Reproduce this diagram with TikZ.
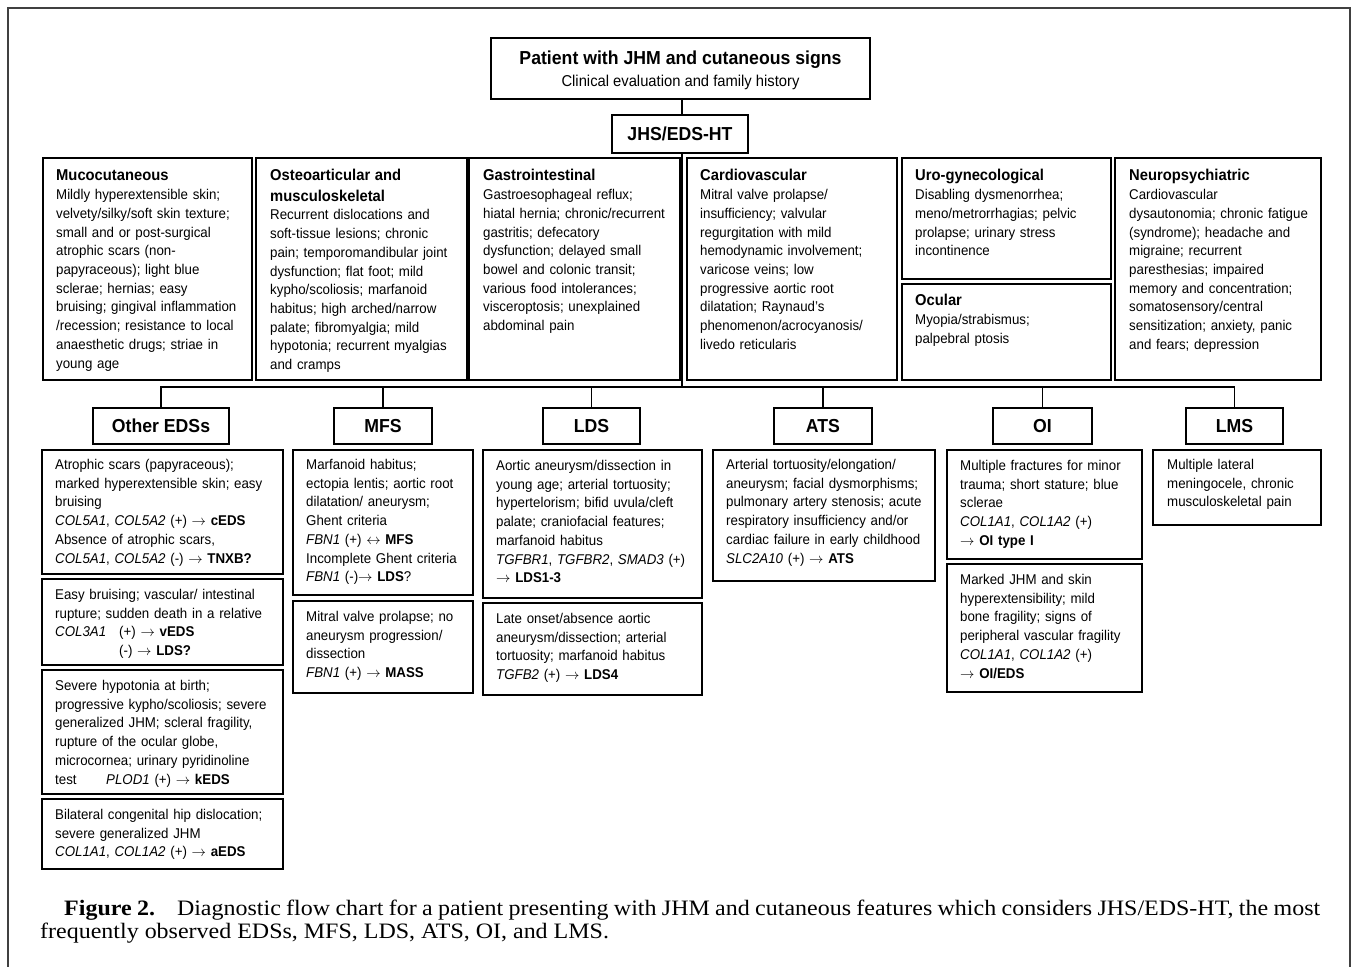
\documentclass[tikz,border=0pt]{standalone}
\usepackage{fontspec}
\setmainfont{Liberation Sans}[FakeStretch=0.94]
\newfontfamily\capserif{Liberation Serif}[FakeStretch=1.09]
\newcommand\bodyf{\fontsize{14.15}{18.7}\selectfont}
\newcommand\titf{\fontsize{15.7}{18.7}\selectfont\bfseries}
\newcommand\hdrf{\fontsize{18.8}{21}\selectfont\bfseries}
\newcommand\subf{\fontsize{15.7}{18}\selectfont}
\newcommand\gn[1]{\textit{#1}}
\newcommand\tl[1]{{\titf #1}}
\newcommand\ra{\ensuremath{\rightarrow}}
\newcommand\lra{\ensuremath{\leftrightarrow}}
\newcommand\bx[5]{\node[bxs, anchor=north west, minimum width={(#4-#2)*1pt}, minimum height={(#5-#3)*1pt}] (#1) at (#2,#3) {};}
\newcommand\tx[4]{\node[txs] (#1) at (#2,#3) {#4};}
\tikzset{
  bxs/.style={draw, line width=1.6pt, inner sep=0pt},
  txs/.style={anchor=base west, inner sep=0pt, text width=330pt, align=left, font=\bodyf},
  hdr/.style={draw, line width=1.6pt, inner sep=0pt, font=\hdrf, minimum height=36pt},
  conn/.style={line width=1.6pt},
  framest/.style={line width=1.2pt, black!75},
}
\begin{document}
\begin{tikzpicture}[x=1pt,y=-1pt]
\useasboundingbox (0,0) rectangle (1353,967);
\draw[framest] (8,980) -- (8,8) -- (1350,8) -- (1350,980);
% top
\node[draw, line width=1.6pt, minimum width=379pt, minimum height=61pt, inner sep=0pt] (top) at (680.5,68.5) {};
\node[anchor=base, inner sep=0pt, font=\hdrf] (toptitle) at (680.5,64) {Patient with JHM and cutaneous signs};
\node[anchor=base, inner sep=0pt, font=\subf] (topsub) at (680.5,86) {Clinical evaluation and family history};
\node[hdr, minimum width=136pt, minimum height=38pt] (jhs) at (680,134) {JHS/EDS-HT};
\coordinate (bar) at (682,387);
% top row boxes
\bx{muc}{42}{157}{251}{379}
\bx{ost}{255}{157}{466}{379}
\bx{gas}{468}{157}{679}{379}
\bx{car}{686}{157}{896}{379}
\bx{uro}{901}{157}{1110}{278}
\bx{ocu}{901}{283}{1110}{379}
\bx{neu}{1114}{157}{1320}{379}
\tx{muct}{56}{180.5}{\tl{Mucocutaneous}\\[0.5pt]
Mildly hyperextensible skin;\\
velvety/silky/soft skin texture;\\
small and or post-surgical\\
atrophic scars (non-\\
papyraceous); light blue\\
sclerae; hernias; easy\\
bruising; gingival inflammation\\
/recession; resistance to local\\
anaesthetic drugs; striae in\\
young age}
\tx{ostt}{270}{180.5}{\tl{Osteoarticular and}\\[2pt]
\tl{musculoskeletal}\\
Recurrent dislocations and\\
soft-tissue lesions; chronic\\
pain; temporomandibular joint\\
dysfunction; flat foot; mild\\
kypho/scoliosis; marfanoid\\
habitus; high arched/narrow\\
palate; fibromyalgia; mild\\
hypotonia; recurrent myalgias\\
and cramps}
\tx{gast}{483}{180.5}{\tl{Gastrointestinal}\\[0.5pt]
Gastroesophageal reflux;\\
hiatal hernia; chronic/recurrent\\
gastritis; defecatory\\
dysfunction; delayed small\\
bowel and colonic transit;\\
various food intolerances;\\
visceroptosis; unexplained\\
abdominal pain}
\tx{cart}{700}{180.5}{\tl{Cardiovascular}\\[0.5pt]
Mitral valve prolapse/\\
insufficiency; valvular\\
regurgitation with mild\\
hemodynamic involvement;\\
varicose veins; low\\
progressive aortic root\\
dilatation; Raynaud’s\\
phenomenon/acrocyanosis/\\
livedo reticularis}
\tx{urot}{915}{180.5}{\tl{Uro-gynecological}\\[0.5pt]
Disabling dysmenorrhea;\\
meno/metrorrhagias; pelvic\\
prolapse; urinary stress\\
incontinence}
\tx{ocut}{915}{305.5}{\tl{Ocular}\\[0.5pt]
Myopia/strabismus;\\
palpebral ptosis}
\tx{neut}{1129}{180.5}{\tl{Neuropsychiatric}\\[0.5pt]
Cardiovascular\\
dysautonomia; chronic fatigue\\
(syndrome); headache and\\
migraine; recurrent\\
paresthesias; impaired\\
memory and concentration;\\
somatosensory/central\\
sensitization; anxiety, panic\\
and fears; depression}
% second level headers
\node[hdr, minimum width=136pt] (oeds) at (161,426) {Other EDSs};
\node[hdr, minimum width=98pt] (mfs) at (383,426) {MFS};
\node[hdr, minimum width=97pt] (lds) at (591.5,426) {LDS};
\node[hdr, minimum width=98pt] (ats) at (823,426) {ATS};
\node[hdr, minimum width=99pt] (oi) at (1042.5,426) {OI};
\node[hdr, minimum width=97pt] (lms) at (1234.5,426) {LMS};
% connectors
\draw[conn] (top.south -| bar) -- (jhs.north -| bar);
\draw[conn] (jhs.south -| bar) -- (bar);
\draw[conn] (oeds.north) |- (bar) -| (lms.north);
\draw[conn] (mfs.north) -- (mfs.north |- bar);
\draw[conn] (lds.north) -- (lds.north |- bar);
\draw[conn] (ats.north) -- (ats.north |- bar);
\draw[conn] (oi.north) -- (oi.north |- bar);
% detail boxes
\bx{oea}{41}{449}{282}{573}
\bx{oeb}{41}{578}{282}{664}
\bx{oec}{41}{669}{282}{793}
\bx{oed}{41}{798}{282}{868}
\bx{mfa}{292}{449}{472}{594}
\bx{mfb}{292}{600}{472}{692}
\bx{lda}{482}{449}{701}{597}
\bx{ldb}{482}{602}{701}{694}
\bx{ata}{712}{449}{934}{580}
\bx{oia}{946}{449}{1141}{558}
\bx{oib}{946}{563}{1141}{691}
\bx{lma}{1152}{449}{1320}{524}
\tx{oeat}{55}{469.5}{Atrophic scars (papyraceous);\\
marked hyperextensible skin; easy\\
bruising\\
\gn{COL5A1}, \gn{COL5A2} (+) \ra{} \textbf{cEDS}\\
Absence of atrophic scars,\\
\gn{COL5A1}, \gn{COL5A2} (-) \ra{} \textbf{TNXB?}}
\tx{oebt}{55}{599.5}{Easy bruising; vascular/ intestinal\\
rupture; sudden death in a relative\\
\makebox[64pt][l]{\gn{COL3A1}}(+) \ra{} \textbf{vEDS}\\
\hspace*{64pt}(-) \ra{} \textbf{LDS?}}
\tx{oect}{55}{690.5}{Severe hypotonia at birth;\\
progressive kypho/scoliosis; severe\\
generalized JHM; scleral fragility,\\
rupture of the ocular globe,\\
microcornea; urinary pyridinoline\\
\makebox[51pt][l]{test}\gn{PLOD1} (+) \ra{} \textbf{kEDS}}
\tx{oedt}{55}{819.5}{Bilateral congenital hip dislocation;\\
severe generalized JHM\\
\gn{COL1A1}, \gn{COL1A2} (+) \ra{} \textbf{aEDS}}
\tx{mfat}{306}{469.5}{Marfanoid habitus;\\
ectopia lentis; aortic root\\
dilatation/ aneurysm;\\
Ghent criteria\\
\gn{FBN1} (+) \lra{} \textbf{MFS}\\
Incomplete Ghent criteria\\
\gn{FBN1} (-)\ra{} \textbf{LDS}?}
\tx{mfbt}{306}{621.5}{Mitral valve prolapse; no\\
aneurysm progression/\\
dissection\\
\gn{FBN1} (+) \ra{} \textbf{MASS}}
\tx{ldat}{496}{470.5}{Aortic aneurysm/dissection in\\
young age; arterial tortuosity;\\
hypertelorism; bifid uvula/cleft\\
palate; craniofacial features;\\
marfanoid habitus\\
\gn{TGFBR1}, \gn{TGFBR2}, \gn{SMAD3} (+)\\
\ra{} \textbf{LDS1-3}}
\tx{ldbt}{496}{623.5}{Late onset/absence aortic\\
aneurysm/dissection; arterial\\
tortuosity; marfanoid habitus\\
\gn{TGFB2} (+) \ra{} \textbf{LDS4}}
\tx{atat}{726}{469.5}{Arterial tortuosity/elongation/\\
aneurysm; facial dysmorphisms;\\
pulmonary artery stenosis; acute\\
respiratory insufficiency and/or\\
cardiac failure in early childhood\\
\gn{SLC2A10} (+) \ra{} \textbf{ATS}}
\tx{oiat}{960}{470.5}{Multiple fractures for minor\\
trauma; short stature; blue\\
sclerae\\
\gn{COL1A1}, \gn{COL1A2} (+)\\
\ra{} \textbf{OI type I}}
\tx{oibt}{960}{584.5}{Marked JHM and skin\\
hyperextensibility; mild\\
bone fragility; signs of\\
peripheral vascular fragility\\
\gn{COL1A1}, \gn{COL1A2} (+)\\
\ra{} \textbf{OI/EDS}}
\tx{lmat}{1167}{469.5}{Multiple lateral\\
meningocele, chronic\\
musculoskeletal pain}
% caption
\node[anchor=base west, inner sep=0pt, font={\capserif\fontsize{22}{26}\selectfont}] (capa) at (64,915.5)
 {\makebox[1256pt][s]{\textbf{Figure 2.}\hspace{22pt}Diagnostic flow chart for a patient presenting with JHM and cutaneous features which considers JHS/EDS-HT, the most}};
\node[anchor=base west, inner sep=0pt, font={\capserif\fontsize{22}{26}\selectfont}] (capb) at (40,938)
 {frequently observed EDSs, MFS, LDS, ATS, OI, and LMS.};
\end{tikzpicture}
\end{document}
